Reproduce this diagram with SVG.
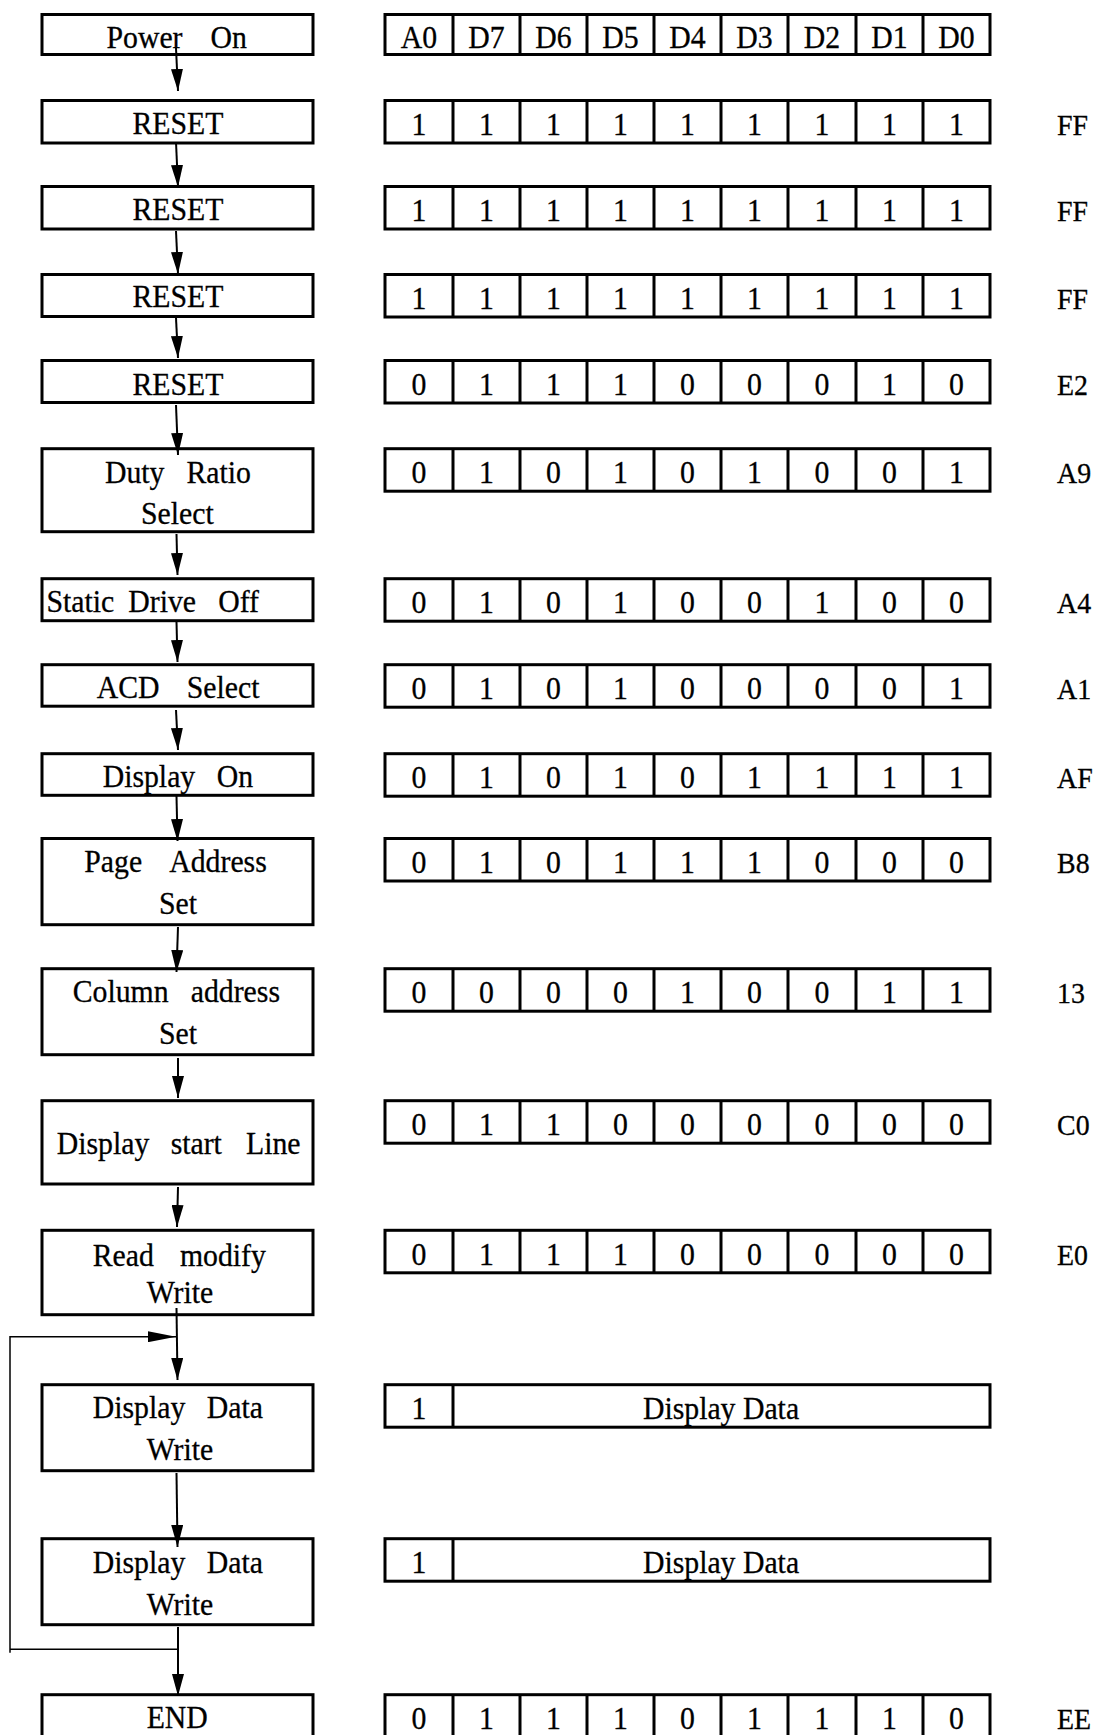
<svg xmlns="http://www.w3.org/2000/svg" width="1110" height="1735" viewBox="0 0 1110 1735">
<style>
text{font-family:"Liberation Serif","Times New Roman",serif;font-size:32px;fill:#000;stroke:#000;stroke-width:0.3;transform:scale(0.93,1)}
.box{fill:#fff;stroke:#000;stroke-width:3}
.div{fill:none;stroke:#000;stroke-width:3}
.c{text-anchor:middle}
.hex{font-size:30px}
.ar{fill:none;stroke:#000;stroke-width:2}
.thin{fill:none;stroke:#000;stroke-width:1.5}
</style>
<defs>
<marker id="ah" markerUnits="userSpaceOnUse" markerWidth="22" markerHeight="12" refX="22" refY="6" orient="auto"><path d="M0,0L22,6L0,12z" fill="#000"/></marker>
<marker id="ah2" markerUnits="userSpaceOnUse" markerWidth="28" markerHeight="11" refX="28" refY="5.5" orient="auto"><path d="M0,0L28,5.5L0,11z" fill="#000"/></marker>
<path id="cells" d="M453,0v42.5M520,0v42.5M587,0v42.5M654,0v42.5M721,0v42.5M788,0v42.5M856,0v42.5M923,0v42.5"/>
</defs>

<!-- left flow nodes (text x values are divided by the 0.93 horizontal text scale) -->
<g id="n-power-on"><rect class="box" x="42" y="14.5" width="271" height="40"/><text y="48"><tspan x="114.5">Power </tspan><tspan x="226.3">On</tspan></text></g>
<g id="n-reset1"><rect class="box" x="42" y="100.5" width="271" height="42.5"/><text class="c" x="191.4" y="134">RESET</text></g>
<g id="n-reset2"><rect class="box" x="42" y="186.5" width="271" height="42.5"/><text class="c" x="191.4" y="220">RESET</text></g>
<g id="n-reset3"><rect class="box" x="42" y="274.5" width="271" height="42"/><text class="c" x="191.4" y="307.5">RESET</text></g>
<g id="n-reset4"><rect class="box" x="42" y="360.5" width="271" height="42"/><text class="c" x="191.4" y="395">RESET</text></g>
<g id="n-duty"><rect class="box" x="42" y="448.7" width="271" height="83"/><text y="482.7"><tspan x="112.9">Duty </tspan><tspan x="200.5">Ratio</tspan></text><text x="151.6" y="524">Select</text></g>
<g id="n-static"><rect class="box" x="42" y="578.7" width="271" height="42"/><text y="611.7"><tspan x="50">Static </tspan><tspan x="138">Drive </tspan><tspan x="234.7">Off</tspan></text></g>
<g id="n-acd"><rect class="box" x="42" y="664.7" width="271" height="41.5"/><text y="698.3"><tspan x="104">ACD </tspan><tspan x="200.8">Select</tspan></text></g>
<g id="n-display-on"><rect class="box" x="42" y="753.7" width="271" height="41.6"/><text y="786.7"><tspan x="110.4">Display </tspan><tspan x="233">On</tspan></text></g>
<g id="n-page"><rect class="box" x="42" y="838.5" width="271" height="86.2"/><text y="872.3"><tspan x="90.6">Page </tspan><tspan x="182">Address</tspan></text><text x="171" y="914">Set</text></g>
<g id="n-column"><rect class="box" x="42" y="968.7" width="271" height="86"/><text y="1002.3"><tspan x="78.2">Column </tspan><tspan x="205.1">address</tspan></text><text x="171" y="1044">Set</text></g>
<g id="n-start-line"><rect class="box" x="42" y="1100.7" width="271" height="83.3"/><text y="1154"><tspan x="61">Display </tspan><tspan x="183.5">start </tspan><tspan x="264.5">Line</tspan></text></g>
<g id="n-rmw"><rect class="box" x="42" y="1230.3" width="271" height="84.4"/><text y="1265.7"><tspan x="99.7">Read </tspan><tspan x="193.5">modify</tspan></text><text x="157.7" y="1303">Write</text></g>
<g id="n-ddw1"><rect class="box" x="42" y="1384.7" width="271" height="86"/><text y="1418.3"><tspan x="99.7">Display </tspan><tspan x="222.3">Data</tspan></text><text x="157.7" y="1460">Write</text></g>
<g id="n-ddw2"><rect class="box" x="42" y="1538.7" width="271" height="86"/><text y="1572.7"><tspan x="99.7">Display </tspan><tspan x="222.3">Data</tspan></text><text x="157.7" y="1615">Write</text></g>
<g id="n-end"><rect class="box" x="42" y="1694.7" width="271" height="60"/><text x="157.7" y="1728.3">END</text></g>

<!-- connectors -->
<g id="connectors">
<line class="ar" x1="176" y1="48" x2="178" y2="91" marker-end="url(#ah)"/>
<line class="ar" x1="176" y1="142" x2="178" y2="187" marker-end="url(#ah)"/>
<line class="ar" x1="176" y1="231" x2="178" y2="274" marker-end="url(#ah)"/>
<line class="ar" x1="176" y1="318" x2="178" y2="358" marker-end="url(#ah)"/>
<line class="ar" x1="176" y1="405" x2="178" y2="455" marker-end="url(#ah)"/>
<line class="ar" x1="176.5" y1="534" x2="177.5" y2="575" marker-end="url(#ah)"/>
<line class="ar" x1="176.5" y1="622" x2="177.5" y2="662" marker-end="url(#ah)"/>
<line class="ar" x1="176" y1="710" x2="178" y2="750" marker-end="url(#ah)"/>
<line class="ar" x1="176.5" y1="796" x2="177.5" y2="841" marker-end="url(#ah)"/>
<line class="ar" x1="178" y1="927" x2="176.5" y2="972" marker-end="url(#ah)"/>
<line class="ar" x1="178" y1="1058" x2="178" y2="1098" marker-end="url(#ah)"/>
<line class="ar" x1="178" y1="1187" x2="177" y2="1227" marker-end="url(#ah)"/>
<line class="ar" x1="176.5" y1="1308" x2="177.5" y2="1380" marker-end="url(#ah)"/>
<line class="ar" x1="176.5" y1="1473" x2="177.5" y2="1547" marker-end="url(#ah)"/>
<line class="ar" x1="178" y1="1627" x2="178" y2="1696" marker-end="url(#ah)"/>
<polyline class="thin" points="178,1649.3 10,1649.3"/>
<polyline class="thin" points="10,1652.7 10,1336.7 176,1336.7" marker-end="url(#ah2)"/>
</g>

<!-- right table -->
<g id="t-header" transform="translate(0,14.5)"><rect class="box" x="385" y="0" width="605" height="40"/><use href="#cells" class="div" transform="scale(1,0.94)"/>
<text class="c" y="33.5"><tspan x="450.5">A0</tspan><tspan x="523.1">D7</tspan><tspan x="595.2">D6</tspan><tspan x="667.2">D5</tspan><tspan x="739.2">D4</tspan><tspan x="811.3">D3</tspan><tspan x="883.9">D2</tspan><tspan x="956.5">D1</tspan><tspan x="1028.5">D0</tspan></text></g>

<g id="t-r1" transform="translate(0,100.5)"><rect class="box" x="385" y="0" width="605" height="42.5"/><use href="#cells" class="div"/>
<text class="c" y="34.5"><tspan x="450.5">1</tspan><tspan x="523.1">1</tspan><tspan x="595.2">1</tspan><tspan x="667.2">1</tspan><tspan x="739.2">1</tspan><tspan x="811.3">1</tspan><tspan x="883.9">1</tspan><tspan x="956.5">1</tspan><tspan x="1028.5">1</tspan></text><text class="hex" x="1136.6" y="34.5">FF</text></g>

<g id="t-r2" transform="translate(0,186.5)"><rect class="box" x="385" y="0" width="605" height="42.5"/><use href="#cells" class="div"/>
<text class="c" y="34.5"><tspan x="450.5">1</tspan><tspan x="523.1">1</tspan><tspan x="595.2">1</tspan><tspan x="667.2">1</tspan><tspan x="739.2">1</tspan><tspan x="811.3">1</tspan><tspan x="883.9">1</tspan><tspan x="956.5">1</tspan><tspan x="1028.5">1</tspan></text><text class="hex" x="1136.6" y="34.5">FF</text></g>

<g id="t-r3" transform="translate(0,274.5)"><rect class="box" x="385" y="0" width="605" height="42.5"/><use href="#cells" class="div"/>
<text class="c" y="34.5"><tspan x="450.5">1</tspan><tspan x="523.1">1</tspan><tspan x="595.2">1</tspan><tspan x="667.2">1</tspan><tspan x="739.2">1</tspan><tspan x="811.3">1</tspan><tspan x="883.9">1</tspan><tspan x="956.5">1</tspan><tspan x="1028.5">1</tspan></text><text class="hex" x="1136.6" y="34.5">FF</text></g>

<g id="t-r4" transform="translate(0,360.5)"><rect class="box" x="385" y="0" width="605" height="42.5"/><use href="#cells" class="div"/>
<text class="c" y="34.5"><tspan x="450.5">0</tspan><tspan x="523.1">1</tspan><tspan x="595.2">1</tspan><tspan x="667.2">1</tspan><tspan x="739.2">0</tspan><tspan x="811.3">0</tspan><tspan x="883.9">0</tspan><tspan x="956.5">1</tspan><tspan x="1028.5">0</tspan></text><text class="hex" x="1136.6" y="34.5">E2</text></g>

<g id="t-r5" transform="translate(0,448.7)"><rect class="box" x="385" y="0" width="605" height="42.5"/><use href="#cells" class="div"/>
<text class="c" y="34.5"><tspan x="450.5">0</tspan><tspan x="523.1">1</tspan><tspan x="595.2">0</tspan><tspan x="667.2">1</tspan><tspan x="739.2">0</tspan><tspan x="811.3">1</tspan><tspan x="883.9">0</tspan><tspan x="956.5">0</tspan><tspan x="1028.5">1</tspan></text><text class="hex" x="1136.6" y="34.5">A9</text></g>

<g id="t-r6" transform="translate(0,578.7)"><rect class="box" x="385" y="0" width="605" height="42.5"/><use href="#cells" class="div"/>
<text class="c" y="34.5"><tspan x="450.5">0</tspan><tspan x="523.1">1</tspan><tspan x="595.2">0</tspan><tspan x="667.2">1</tspan><tspan x="739.2">0</tspan><tspan x="811.3">0</tspan><tspan x="883.9">1</tspan><tspan x="956.5">0</tspan><tspan x="1028.5">0</tspan></text><text class="hex" x="1136.6" y="34.5">A4</text></g>

<g id="t-r7" transform="translate(0,664.7)"><rect class="box" x="385" y="0" width="605" height="42.5"/><use href="#cells" class="div"/>
<text class="c" y="34.5"><tspan x="450.5">0</tspan><tspan x="523.1">1</tspan><tspan x="595.2">0</tspan><tspan x="667.2">1</tspan><tspan x="739.2">0</tspan><tspan x="811.3">0</tspan><tspan x="883.9">0</tspan><tspan x="956.5">0</tspan><tspan x="1028.5">1</tspan></text><text class="hex" x="1136.6" y="34.5">A1</text></g>

<g id="t-r8" transform="translate(0,753.7)"><rect class="box" x="385" y="0" width="605" height="42.5"/><use href="#cells" class="div"/>
<text class="c" y="34.5"><tspan x="450.5">0</tspan><tspan x="523.1">1</tspan><tspan x="595.2">0</tspan><tspan x="667.2">1</tspan><tspan x="739.2">0</tspan><tspan x="811.3">1</tspan><tspan x="883.9">1</tspan><tspan x="956.5">1</tspan><tspan x="1028.5">1</tspan></text><text class="hex" x="1136.6" y="34.5">AF</text></g>

<g id="t-r9" transform="translate(0,838.5)"><rect class="box" x="385" y="0" width="605" height="42.5"/><use href="#cells" class="div"/>
<text class="c" y="34.5"><tspan x="450.5">0</tspan><tspan x="523.1">1</tspan><tspan x="595.2">0</tspan><tspan x="667.2">1</tspan><tspan x="739.2">1</tspan><tspan x="811.3">1</tspan><tspan x="883.9">0</tspan><tspan x="956.5">0</tspan><tspan x="1028.5">0</tspan></text><text class="hex" x="1136.6" y="34.5">B8</text></g>

<g id="t-r10" transform="translate(0,968.7)"><rect class="box" x="385" y="0" width="605" height="42.5"/><use href="#cells" class="div"/>
<text class="c" y="34.5"><tspan x="450.5">0</tspan><tspan x="523.1">0</tspan><tspan x="595.2">0</tspan><tspan x="667.2">0</tspan><tspan x="739.2">1</tspan><tspan x="811.3">0</tspan><tspan x="883.9">0</tspan><tspan x="956.5">1</tspan><tspan x="1028.5">1</tspan></text><text class="hex" x="1136.6" y="34.5">13</text></g>

<g id="t-r11" transform="translate(0,1100.7)"><rect class="box" x="385" y="0" width="605" height="42.5"/><use href="#cells" class="div"/>
<text class="c" y="34.5"><tspan x="450.5">0</tspan><tspan x="523.1">1</tspan><tspan x="595.2">1</tspan><tspan x="667.2">0</tspan><tspan x="739.2">0</tspan><tspan x="811.3">0</tspan><tspan x="883.9">0</tspan><tspan x="956.5">0</tspan><tspan x="1028.5">0</tspan></text><text class="hex" x="1136.6" y="34.5">C0</text></g>

<g id="t-r12" transform="translate(0,1230.3)"><rect class="box" x="385" y="0" width="605" height="42.5"/><use href="#cells" class="div"/>
<text class="c" y="34.5"><tspan x="450.5">0</tspan><tspan x="523.1">1</tspan><tspan x="595.2">1</tspan><tspan x="667.2">1</tspan><tspan x="739.2">0</tspan><tspan x="811.3">0</tspan><tspan x="883.9">0</tspan><tspan x="956.5">0</tspan><tspan x="1028.5">0</tspan></text><text class="hex" x="1136.6" y="34.5">E0</text></g>

<g id="t-dd1" transform="translate(0,1384.7)"><rect class="box" x="385" y="0" width="605" height="42.5"/><path class="div" d="M453,0v42.5"/>
<text class="c" x="450.5" y="34.5">1</text><text class="c" x="775.3" y="34.5">Display Data</text></g>

<g id="t-dd2" transform="translate(0,1538.7)"><rect class="box" x="385" y="0" width="605" height="42.5"/><path class="div" d="M453,0v42.5"/>
<text class="c" x="450.5" y="34.5">1</text><text class="c" x="775.3" y="34.5">Display Data</text></g>

<g id="t-ee" transform="translate(0,1694.7)"><rect class="box" x="385" y="0" width="605" height="60"/><use href="#cells" class="div" transform="scale(1,1.5)"/>
<text class="c" y="34.5"><tspan x="450.5">0</tspan><tspan x="523.1">1</tspan><tspan x="595.2">1</tspan><tspan x="667.2">1</tspan><tspan x="739.2">0</tspan><tspan x="811.3">1</tspan><tspan x="883.9">1</tspan><tspan x="956.5">1</tspan><tspan x="1028.5">0</tspan></text><text class="hex" x="1136.6" y="34.5">EE</text></g>
</svg>
